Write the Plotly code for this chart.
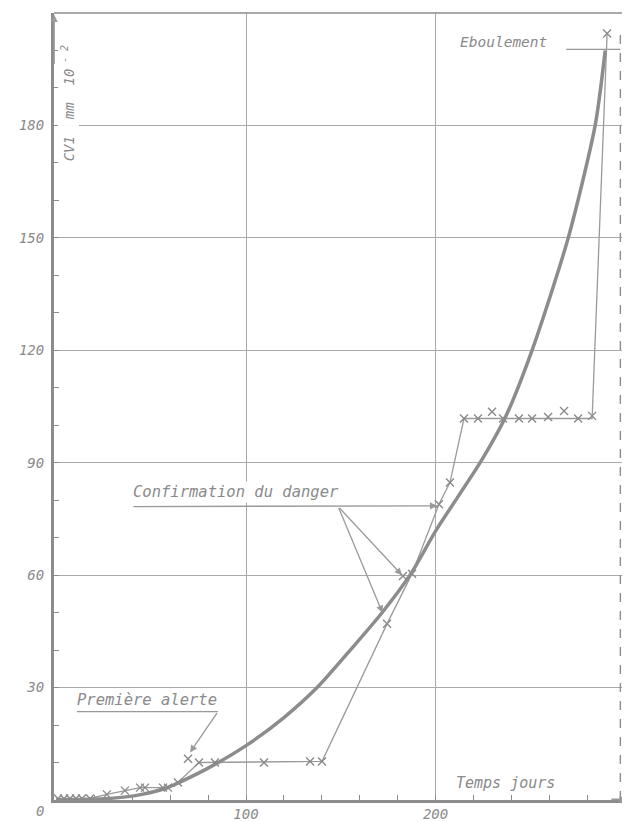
import plotly.graph_objects as go
import numpy as np

# ---------------- data ----------------
# measured points: time (days) vs CV1 displacement (mm 10^-2)
meas_days = [0.8, 4, 7.1, 10.3, 13.5, 17.7, 26.6, 36.1, 44.1, 46.7, 56.2, 58.8, 64.1,
             69.4, 75.2, 83.6, 109.5, 133.8, 140.1, 174.4, 182.8, 187.6, 201.8, 207.6,
             215, 222.4, 229.8, 235.6, 244, 250.9, 259.4, 267.8, 275.2, 282.6, 290.5]
meas_vals = [0.4, 0.4, 0.4, 0.4, 0.4, 0.4, 1.5, 2.5, 3.3, 3.3, 3.3, 3.3, 4.7,
             11, 10, 10, 10, 10.3, 10.3, 47, 59.8, 60.4, 78.9, 84.7,
             101.8, 101.8, 103.6, 101.8, 101.8, 101.8, 102.2, 103.8, 101.8, 102.5, 204.5]

# thin broken line joining the measurements
path_days = [0, 17.7, 26.6, 36.1, 44.1, 58.8, 64.1, 75.2, 140.1, 174.4, 187.6,
             201.8, 207.6, 215, 282.6, 290.5]
path_vals = [0.4, 0.4, 1.5, 2.5, 3.3, 3.3, 4.7, 10, 10.3, 47, 60.4,
             78.9, 84.7, 101.8, 101.8, 204.5]

# thick smoothed trend curve
curve_days = [0, 30, 45, 58, 64, 80, 100, 120, 137.5, 155, 171, 186.5, 200.8,
              223.5, 236.7, 250.9, 270, 284.2, 289.5]
curve_vals = [0, 0.5, 1.5, 3.2, 4.5, 8.5, 14.5, 22, 30, 40, 49.5, 60, 72.4,
              90, 102, 120, 150, 180, 200]

# collapse day (dashed line)
collapse_day = 297.5

x_tickvals = [100, 200]
x_ticktext = ["100", "200"]
y_tickvals = [30, 60, 90, 120, 150, 180]
y_ticktext = ["30", "60", "90", "120", "150", "180"]

# ---------------- styling ----------------
GRAY = "#8c8c8c"
LGRAY = "#a9a9a9"
FONT = dict(family="DejaVu Sans Mono", size=14, color="#8a8a8a", style="italic")
XMIN, XMAX = -1.3, 301
YMIN, YMAX = 0, 210

fig = go.Figure()

fig.add_trace(go.Scatter(x=path_days, y=path_vals, mode="lines",
                         line=dict(color="#9a9a9a", width=1.3),
                         hoverinfo="skip", showlegend=False))
fig.add_trace(go.Scatter(x=curve_days, y=curve_vals, mode="lines",
                         line=dict(color=GRAY, width=3.5, shape="spline", smoothing=0.7),
                         hoverinfo="skip", showlegend=False))
fig.add_trace(go.Scatter(x=meas_days, y=meas_vals, mode="markers",
                         marker=dict(symbol="x-thin", size=8,
                                     line=dict(color="#8a8a8a", width=1.4)),
                         hoverinfo="skip", showlegend=False))

# dashed collapse line
fig.add_shape(type="line", x0=collapse_day, x1=collapse_day, y0=0, y1=205,
              xref="x", yref="y", line=dict(color=GRAY, width=1.4, dash="dash"))
# frame top & right
fig.add_shape(type="line", xref="paper", yref="paper", x0=0, x1=1, y0=1, y1=1,
              line=dict(color=GRAY, width=1.5))
fig.add_shape(type="line", xref="paper", yref="paper", x0=1, x1=1, y0=0, y1=1,
              line=dict(color=GRAY, width=1.5))

# leader lines (underlines)
fig.add_shape(type="line", x0=10.8, x1=85.2, y0=23.6, y1=23.6,
              line=dict(color="#999", width=1.3))
fig.add_shape(type="line", x0=268.9, x1=297.5, y0=200.3, y1=200.3,
              line=dict(color="#999", width=1.3))

ann = []
def arrow(x, y, ax, ay, head=2):
    ann.append(dict(x=x, y=y, ax=ax, ay=ay, xref="x", yref="y", axref="x", ayref="y",
                    text="", showarrow=True, arrowhead=head, arrowsize=1.1,
                    arrowwidth=1.3, arrowcolor="#999"))

# axis arrows
arrow(XMIN + 0.1, 209.5, XMIN + 0.1, 196)
arrow(300.8, 0.2, 292, 0.2)
# Première alerte
arrow(70.5, 12.7, 85.2, 23.6)
# Confirmation du danger
arrow(200.8, 78.5, 39.8, 78.3)
arrow(182.3, 60, 148.6, 78.3)
arrow(172, 50, 148.6, 78.3)

def label(x, y, text, angle=0, size=14, bg=None):
    d = dict(x=x, y=y, xref="x", yref="y", text=text, showarrow=False,
             textangle=angle, font=dict(FONT, size=size))
    if bg:
        d["bgcolor"] = bg
    ann.append(d)

label(94.8, 82.3, "Confirmation du danger", size=15.5, bg="rgba(255,255,255,0.95)")
label(47.8, 26.8, "Première alerte", size=15.5)
label(235.6, 202.2, "Eboulement", size=14.5)
label(236.9, 4.5, "Temps jours", size=15)
label(6.3, 186, "CV1  mm  10<sup> - 2</sup>", angle=-90, size=14,
      bg="rgba(255,255,255,0.95)")
# origin label (shared by both axes), placed in paper coordinates
ann.append(dict(x=-0.024, y=-0.014, xref="paper", yref="paper", text="0",
                showarrow=False, font=FONT, yanchor="middle", xanchor="center"))

# page body adds an 8px offset, so margins are compensated
fig.update_layout(
    width=630, height=822,
    margin=dict(l=46, r=11, t=5, b=30, pad=0),
    paper_bgcolor="white", plot_bgcolor="white",
    annotations=ann,
    xaxis=dict(range=[XMIN, XMAX], showgrid=True, gridcolor=LGRAY, gridwidth=1.2,
               zeroline=False, showline=True, linecolor=GRAY, linewidth=3,
               automargin=False,
               tickmode="array", tickvals=x_tickvals, ticktext=x_ticktext,
               ticks="inside", ticklen=5, tickcolor=GRAY, tickwidth=1.2,
               tickfont=FONT, ticklabelstandoff=-1,
               minor=dict(tickmode="array", tickvals=list(range(20, 300, 20)),
                          ticks="inside", ticklen=5, tickcolor=GRAY, showgrid=False)),
    yaxis=dict(range=[YMIN, YMAX], showgrid=True, gridcolor=LGRAY, gridwidth=1.2,
               zeroline=False, showline=True, linecolor=GRAY, linewidth=3,
               automargin=False,
               tickmode="array", tickvals=y_tickvals, ticktext=y_ticktext,
               ticks="inside", ticklen=5, tickcolor=GRAY, tickwidth=1.2,
               tickfont=FONT, ticklabelstandoff=4,
               minor=dict(tickmode="array", tickvals=list(range(10, 210, 10)),
                          ticks="inside", ticklen=5, tickcolor=GRAY, showgrid=False)),
)

fig.write_html("out.html")
